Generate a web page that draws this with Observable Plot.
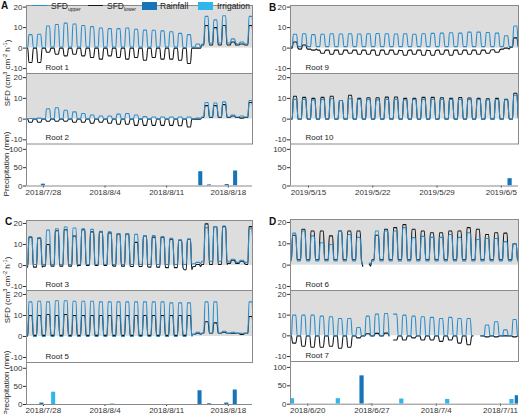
<!DOCTYPE html>
<html><head><meta charset="utf-8">
<script src="https://cdn.jsdelivr.net/npm/d3@7"></script>
<script src="https://cdn.jsdelivr.net/npm/@observablehq/plot@0.6"></script>
<style>
body{margin:0;background:#fff;font-family:"Liberation Sans",Arial,sans-serif;}
#root{position:relative;width:520px;height:414px;overflow:hidden;}
.abs{position:absolute;white-space:nowrap;color:#222;}
svg{overflow:visible}
</style></head><body><div id="root"></div>
<script>
// ---------- tick labels ----------
const ticksAC = ["2018-07-28","2018-08-04","2018-08-11","2018-08-18"];
const ticksB  = ["2019-05-15","2019-05-22","2019-05-29","2019-06-05"];
const ticksD  = ["2018-06-20","2018-06-27","2018-07-04","2018-07-11"];
const sfdTicks = [-10, 0, 10, 20];
const precipTicks = [0, 50, 100];

// ---------- Panel A (daily values from 2018-07-26) ----------
const root1Upper     = [6.6,6.8,10.8,11.5,12.2,11.8,11,10.5,9.8,9.5,9.5,9.8,9.2,8.8,8.7,8.4,8,7.2,6.6,2,15.5,13.8,15.8,4.5,3,15.5];
const root1UpperBase = [0.3,0.3,0.3,0.5,0.5,0.5,0.5,0.5,0.5,0.5,0.5,0.5,0.5,0.5,0.5,0.5,0.5,0.5,0.3,0.5,2,2.5,2.5,2.5,2,2];
const root1Lower     = [-7,-7,-2,-3,-3.8,-3,-3.8,-4.6,-5.4,-3.8,-4.6,-5.4,-4.6,-5.9,-4.6,-5.4,-5.4,-5.9,-7.5,0,11,10,11,3,2,11];
const root1LowerBase = [0,0,0,0,0,0,0,0,0,0,0,0,0,0,0,0,0,0,0,0,1.5,1.5,1.5,1.5,1.5,1.5];
const root2Upper     = [0.3,0.5,5,5.5,4.3,3.5,2.7,2,1.5,1.5,2.4,2.7,2,1.2,1,1,1,1,1,0.5,8,7.8,8.3,2,1.5,9];
const root2UpperBase = [0,0,0,0,0,0,0,0,0,0,0,0,0,0,0,0,0,0,0,0.2,1,1,1,1,1,1];
const root2Lower     = [-1.5,-1.5,-1,-1,-1,-1.5,-1.5,-2,-1.5,-2,-2.5,-2.5,-3,-3,-3,-3,-3,-3.2,-3.8,0,6.5,6.5,7,1.5,0.5,8];
const root2LowerBase = [0,0,0,0,0,0,0,0,0,0,0,0,0,0,0,0,0,0,0,0,0.8,0.8,0.8,0.8,0.8,0.8];
const rainA = [["2018-07-28T00:00",5],["2018-08-04T22:00",1],["2018-08-14T21:00",39],["2018-08-15T21:00",3],["2018-08-17T21:00",4],["2018-08-18T20:00",41]];
const irrA  = [];

// ---------- Panel B (daily values from 2019-05-13) ----------
const root9Upper     = [6.8,7,6.6,6.8,7,6.9,7,6.9,7,7.1,7,6.9,7,6.8,7,7.2,7.3,7.5,7.3,7.8,7.8,7.6,7.3,6,10.8];
const root9UpperBase = [0.7,0.7,0.7,0.7,0.7,0.7,0.7,0.7,0.7,0.7,0.7,0.7,0.7,0.7,0.7,0.7,0.7,0.7,0.7,0.7,0.7,0.7,0.7,0.7,0.7];
const root9Lower     = [3,1.5,-1,-2.5,-3,-3,-2.5,-3,-3,-3.5,-3,-3,-3.5,-3,-3.5,-3.5,-3,-3.5,-3,-3,-3,-2.5,-2,0,5];
const root9LowerBase = [0,-0.5,-0.5,-1,-1,-1,-1,-1,-1,-1,-1,-1,-1.2,-1,-1,-1.2,-1,-1,-1,-1,-1,-1,-0.8,-0.5,0.5];
const root10Upper    = [9.5,9.5,9.3,9.5,9.8,9,9.8,9.5,9.5,9.3,9.5,9.5,9.3,9.5,9.5,9.6,9.5,9.5,9.5,9.5,9.5,9.3,9.5,9.3,11.5];
const root10Lower    = [11,10.5,10,10.5,11,9,11.5,10,10.3,10.3,10.6,10.7,10,10,10.5,10.5,10.3,10,10.4,10.2,10,9.8,10,9.5,12.5];
const root10Base     = [0,0,0,0,0,0,0,0,0,0,0,0,0,0,0,0,0,0,0,0,0,0,0,0,0];
const rainB = [["2019-06-05T23:00",20]];
const irrB  = [];

// ---------- Panel C (daily values from 2018-07-26) ----------
const root3Upper     = [13.7,13.2,16.8,17.5,18.3,17.8,17.5,17.2,16.3,16,15.2,15.2,14.8,14.2,14.2,13.7,12.9,12.2,12.6,1.5,18,18.5,18.8,3,2.5,17.5];
const root3UpperBase = [0.5,0.5,0.5,0.5,0.5,0.5,0.5,0.5,0.5,0.5,0.5,0.5,0.5,0.5,0.5,0.5,0.5,0.5,0.5,0.8,2,2,2,2,1.5,1.5];
const root3Lower     = [13.5,13,10,16.5,17,14,17,16,16,15.5,15,15,11,14,13.5,13.5,12.5,12,12.5,0.5,19.8,18.5,18.5,2.5,2,18.5];
const root3LowerBase = [-0.8,-0.8,-0.3,-0.3,-0.3,-0.3,0,0,0,0,-0.3,-0.3,-0.5,-0.5,-0.8,-0.8,-1,-1,-2,-0.5,0.5,0.5,0.5,1,1,0.5];
const root5Upper     = [16.5,16.8,16.5,17,17,16.8,16.8,16.8,16.5,16.5,16.5,16.5,16.5,16.5,16.5,16.5,16,16,16,2,16.5,16.5,2.5,2,1.5,16.5];
const root5UpperBase = [0,0,0,0,0,0,0,0,0,0,0,0,0,0,0,0,0,0,0,1,1.5,1.5,1.5,1.5,1.5,1.5];
const root5Lower     = [10,10,10.5,10,10.5,10,10,10,10,10,10,10,10,10,10,10,10,10,10,1.5,7,6.5,2,1.5,1,9.5];
const root5LowerBase = [0.5,0.5,0.5,0.5,0.5,0.5,0.5,0.5,0.5,0.5,0.5,0.5,0.5,0.5,0.5,0.5,0.5,0.5,0.5,1,1.5,1.5,1.5,1.5,1.5,1.5];
const rainC = [["2018-07-27T20:00",4],["2018-08-04T21:00",1],["2018-08-14T19:00",38],["2018-08-15T21:00",2],["2018-08-17T20:00",4],["2018-08-18T19:00",40]];
const irrC  = [["2018-07-29T04:00",34]];

// ---------- Panel D (daily values from 2018-06-18) ----------
const root6Upper     = [15,16,13.7,10.5,9.7,16,14.4,13,1,16,16,16,17.6,12.9,13.5,13,13,14.4,13,15.2,12,12.5,12.5,11,10];
const root6UpperBase = [2,2,2,2,2,2,2,2,0.5,2,2,2,2,2,2,2,2,2,2,2,2,2,2,2,2];
const root6Lower     = [14,16.8,16,16,13.7,16,16,16,0.5,14,16.8,17.6,19,16.8,16,15.2,15.2,16,16,17.6,16.8,14.4,15.2,15,10];
const root6LowerBase = [2.5,2.5,2.5,2.5,2.5,2.5,2.5,2.5,-0.5,2.5,2.5,2.5,2.5,2.5,2.5,2.5,2.5,2.5,2.5,2.5,2.5,2.5,2.5,2.5,2.5];
const root6Gaps      = [["2018-06-26T04:00","2018-06-26T15:00"]];
const root7Upper     = [10,10,10,9.5,9.2,8.4,8.4,4,9.5,10.5,10.8,10.5,10,9.5,9.2,8.9,8.4,8.9,8.4,8.4,0.2,5.2,6.8,2.9,7.9];
const root7Lower     = [-3.5,-5,-5.5,-5.5,-5,-6,-5.5,-1,1,1.2,1.3,-2,-2,-1,-2,-2,-2.7,-2,-3.5,-4.3,0,-0.5,-0.5,0,-0.5];
const root7Base      = [0,0,0,0,0,0,0,0,0,0,0,0,0,0,0,0,0,0,0,0,0,0,0,0,0];
const root7Gaps      = [["2018-06-28T21:00","2018-06-29T06:00"],["2018-07-08T03:00","2018-07-08T20:00"]];
const rainD = [["2018-06-25T22:00",77],["2018-06-26T21:00",1],["2018-07-12T20:00",23]];
const irrD  = [["2018-06-18T08:00",15],["2018-06-23T08:00",15],["2018-06-30T06:00",14],["2018-07-05T06:00",13],["2018-07-12T06:00",13]];

// ---------- styling ----------
const BLUE = "#2a8dcc", BLACK = "#151515", RAIN = "#1874b9", IRR = "#2fb6ec", SHADE = "#dddddd", FRAME = "#8a8a8a";
const HOUR = 3600e3;
const dayHours = [0, 5.5, 8.5, 17, 20.5];   // sampling hours of each daily cycle
const fmt = d3.timeFormat("%Y/%-m/%-d");
const ML = 24, MR = 1;

function buildSeries(start, peaks, base, gaps = []) {
  const t0 = new Date(start + "T00:00");
  const pts = [];
  peaks.forEach((p, i) => {
    const b = base[i];
    const vals = [b, b, p, p, b];
    dayHours.forEach((h, j) => pts.push({t: new Date(+t0 + (i * 24 + h) * HOUR), v: vals[j]}));
  });
  pts.push({t: new Date(+t0 + peaks.length * 24 * HOUR), v: base[base.length - 1]});
  const g = gaps.map(([a, b]) => [new Date(a), new Date(b)]);
  return pts.map(d => g.some(([a, b]) => d.t >= a && d.t <= b) ? {t: d.t, v: NaN} : d);
}

const root = document.getElementById("root");
function place(el, left, top) {
  el.style.position = "absolute"; el.style.left = left + "px"; el.style.top = top + "px";
  root.appendChild(el);
}
function html(str, left, top, css = "") {
  const d = document.createElement("div");
  d.className = "abs"; d.innerHTML = str; d.style.cssText += css;
  d.style.left = left + "px"; d.style.top = top + "px";
  root.appendChild(d); return d;
}

function sfdPlot(p, row) {
  const dom = p.domain.map(s => new Date(s));
  const up = buildSeries(p.start, row.up, row.upBase, row.gaps || []);
  const lo = buildSeries(p.start, row.lo, row.loBase, row.gaps || []);
  const yd = row.yDomain;
  const svg = Plot.plot({
    width: p.x1 - p.x0 + ML + MR, height: row.h,
    marginLeft: ML, marginRight: MR, marginTop: 0, marginBottom: 0,
    style: {fontSize: "8px", fontFamily: "Liberation Sans, Arial, sans-serif", color: "#333", background: "transparent", overflow: "visible"},
    x: {type: "time", domain: dom, axis: null},
    y: {domain: yd, ticks: sfdTicks, tickSize: 3, tickPadding: 1, tickFormat: d => String(d), label: null},
    marks: [
      Plot.rect([0], {x1: () => dom[0], x2: () => dom[1], y1: () => 0, y2: () => yd[1], fill: SHADE}),
      Plot.line(lo, {x: "t", y: "v", stroke: BLACK, strokeWidth: 1.1, curve: "monotone-x", clip: true}),
      Plot.line(up, {x: "t", y: "v", stroke: BLUE, strokeWidth: 1.1, curve: "monotone-x", clip: true}),
      Plot.text([row.label], {frameAnchor: "bottom-left", textAnchor: "start", dx: p.labelDx, dy: -4, fontSize: 8, fill: "#222"}),
      Plot.frame({stroke: FRAME})
    ]
  });
  place(svg, p.x0 - ML, row.top);
}

function precipPlot(p) {
  const dom = p.domain.map(s => new Date(s));
  const pr = p.precip;
  const half = 5.5 * HOUR;
  const bar = (arr) => arr.map(([t, v]) => ({t: new Date(t), v}));
  const svg = Plot.plot({
    width: p.x1 - p.x0 + ML + MR, height: pr.h + 16,
    marginLeft: ML, marginRight: MR, marginTop: 0, marginBottom: 16,
    style: {fontSize: "8px", fontFamily: "Liberation Sans, Arial, sans-serif", color: "#333", background: "transparent", overflow: "visible"},
    x: {type: "time", domain: dom, ticks: p.ticks.map(s => new Date(s + "T00:00")), tickFormat: fmt, tickSize: 2, tickPadding: 1, label: null},
    y: {domain: [0, 116], ticks: precipTicks, tickSize: 3, tickPadding: 1, label: null},
    marks: [
      Plot.rectY(bar(pr.rain), {x1: d => new Date(+d.t - half), x2: d => new Date(+d.t + half), y1: 0, y2: "v", fill: RAIN, clip: true}),
      Plot.rectY(bar(pr.irr), {x1: d => new Date(+d.t - half), x2: d => new Date(+d.t + half), y1: 0, y2: "v", fill: IRR, clip: true}),
      Plot.ruleY([0], {stroke: FRAME}),
      Plot.ruleX([dom[0]], {stroke: FRAME})
    ]
  });
  place(svg, p.x0 - ML, pr.top);
}

const panels = [
  {letter: "A", lx: 1, ly: 0, x0: 26, x1: 252, start: "2018-07-26", domain: ["2018-07-26T02:00", "2018-08-20T18:00"], ticks: ticksAC, labelDx: 19,
   rows: [
     {top: 4.5, h: 68, yDomain: [-12.4, 20.8], label: "Root 1", up: root1Upper, upBase: root1UpperBase, lo: root1Lower, loBase: root1LowerBase},
     {top: 72.5, h: 70.5, yDomain: [-12, 22], label: "Root 2", up: root2Upper, upBase: root2UpperBase, lo: root2Lower, loBase: root2LowerBase}],
   precip: {top: 143, h: 42.5, rain: rainA, irr: irrA}, titles: true},
  {letter: "B", lx: 269, ly: 2, x0: 290, x1: 518, start: "2019-05-13", domain: ["2019-05-13T01:00", "2019-06-06T21:00"], ticks: ticksB, labelDx: 15,
   rows: [
     {top: 4.5, h: 68, yDomain: [-12.4, 20.8], label: "Root 9", up: root9Upper, upBase: root9UpperBase, lo: root9Lower, loBase: root9LowerBase},
     {top: 72.5, h: 70.5, yDomain: [-12, 22], label: "Root 10", up: root10Upper, upBase: root10Base, lo: root10Lower, loBase: root10Base}],
   precip: {top: 143, h: 42.5, rain: rainB, irr: irrB}, titles: false},
  {letter: "C", lx: 5, ly: 216, x0: 26, x1: 252, start: "2018-07-26", domain: ["2018-07-26T02:00", "2018-08-20T18:00"], ticks: ticksAC, labelDx: 19,
   rows: [
     {top: 220, h: 70, yDomain: [-11.9, 21.4], label: "Root 3", up: root3Upper, upBase: root3UpperBase, lo: root3Lower, loBase: root3LowerBase},
     {top: 290, h: 72, yDomain: [-12.4, 21.9], label: "Root 5", up: root5Upper, upBase: root5UpperBase, lo: root5Lower, loBase: root5LowerBase}],
   precip: {top: 362, h: 42, rain: rainC, irr: irrC}, titles: true},
  {letter: "D", lx: 269, ly: 216, x0: 290, x1: 518, start: "2018-06-18", domain: ["2018-06-18T03:00", "2018-07-12T23:00"], ticks: ticksD, labelDx: 15,
   rows: [
     {top: 219, h: 71, yDomain: [-11.9, 21.4], label: "Root 6", up: root6Upper, upBase: root6UpperBase, lo: root6Lower, loBase: root6LowerBase, gaps: root6Gaps},
     {top: 290, h: 71, yDomain: [-12.4, 21.9], label: "Root 7", up: root7Upper, upBase: root7Base, lo: root7Lower, loBase: root7Base, gaps: root7Gaps}],
   precip: {top: 361, h: 42.7, rain: rainD, irr: irrD}, titles: false}
];

for (const p of panels) {
  p.rows.forEach(r => sfdPlot(p, r));
  precipPlot(p);
  html(p.letter, p.lx, p.ly, "font-weight:bold;font-size:10px;line-height:11px;color:#111;");
  if (p.titles) {
    const sfdMid = p.rows[1].top;
    const prMid = p.precip.top + p.precip.h / 2;
    html("SFD (cm<sup>3</sup> cm<sup>-2</sup> h<sup>-1</sup>)", 6, sfdMid,
      "font-size:8px;transform:translate(-50%,-50%) rotate(-90deg);line-height:9px;");
    html("Precipitation (mm)", 6, prMid,
      "font-size:8px;transform:translate(-50%,-50%) rotate(-90deg);line-height:9px;");
  }
}
document.querySelectorAll("sup").forEach(s => { s.style.fontSize = "5.5px"; s.style.verticalAlign = "3px"; });

// ---------- legend (panel A top) ----------
const legY = 6;
const lg = (s, l, t, css) => html(s, l, t, css);
lg("", 32, legY - 0.6, `width:15px;height:0;border-top:1.3px solid ${BLUE};`);
lg("SFD<span style='font-size:5px;vertical-align:-2px'>upper</span>", 51, legY - 5, "font-size:8.5px;line-height:10px;");
lg("", 88, legY - 0.6, `width:15px;height:0;border-top:1.3px solid ${BLACK};`);
lg("SFD<span style='font-size:5px;vertical-align:-2px'>lower</span>", 107, legY - 5, "font-size:8.5px;line-height:10px;");
lg("", 142, 1.5, `width:15px;height:8px;background:${RAIN};`);
lg("Rainfall", 160, legY - 5, "font-size:8.5px;line-height:10px;");
lg("", 198, 1.5, `width:15px;height:8px;background:${IRR};`);
lg("Irrigation", 217, legY - 5, "font-size:8.5px;line-height:10px;");
</script></body></html>
